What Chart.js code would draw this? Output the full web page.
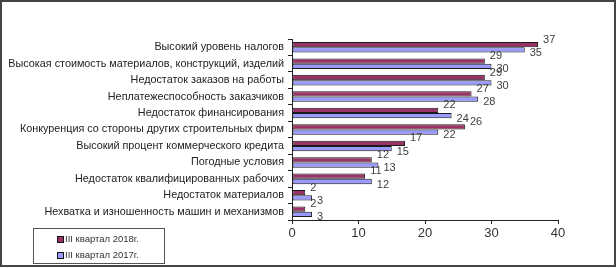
<!DOCTYPE html>
<html>
<head>
<meta charset="utf-8">
<script src="https://cdn.jsdelivr.net/npm/chart.js@4"></script>
<style>
  body { margin: 0; background: #fff; }
  #wrap { position: relative; width: 616px; height: 269px; }
  #frame { position: absolute; left: 0; top: 0; width: 612px; height: 263px; border: 2px solid #444; pointer-events: none; }
  #legend { position: absolute; left: 33px; top: 228px; width: 130px; height: 34px; border: 1px solid #555;
            font: 9.5px "Liberation Sans", Arial, sans-serif; color: #333; }
  #legend div { position: absolute; left: 23px; }
  #legend span { display: inline-block; width: 5px; height: 5px; border: 1px solid #111; margin-right: 1px; vertical-align: -1px; }
</style>
</head>
<body>
<div id="wrap">
  <canvas id="theChart" width="616" height="269"></canvas>
  <div id="legend"></div>
  <div id="frame"></div>
</div>
<script>
const labels1 = [
  'Высокий уровень налогов',
  'Высокая стоимость материалов, конструкций, изделий',
  'Недостаток заказов на работы',
  'Неплатежеспособность заказчиков',
  'Недостаток финансирования',
  'Конкуренция со стороны других строительных фирм',
  'Высокий процент коммерческого кредита',
  'Погодные условия',
  'Недостаток квалифицированных рабочих',
  'Недостаток материалов',
  'Нехватка и изношенность машин и механизмов'
];
const series2018 = [37, 29, 29, 27, 22, 26, 17, 12, 11, 2, 2];
const series2017 = [35, 30, 30, 28, 24, 22, 15, 13, 12, 3, 3];
const seriesNames = ['III квартал 2018г.', 'III квартал 2017г.'];
const xTicks = [0, 10, 20, 30, 40];

// value labels next to bar ends (no datalabels plugin available)
const valueLabels = {
  id: 'valueLabels',
  afterDatasetsDraw(chart) {
    const ctx = chart.ctx;
    ctx.save();
    ctx.font = '11px "Liberation Sans", Arial, sans-serif';
    ctx.fillStyle = '#404040';
    ctx.textAlign = 'left';
    ctx.textBaseline = 'middle';
    chart.data.datasets.forEach((ds, i) => {
      const meta = chart.getDatasetMeta(i);
      meta.data.forEach((bar, j) => {
        const dy = i === 0 ? -5 : 3;
        ctx.fillText(ds.data[j], bar.x + 5, bar.y + dy);
      });
    });
    ctx.restore();
  }
};

const data1 = {
  labels: labels1,
  datasets: [
    {
      label: seriesNames[0],
      data: series2018,
      backgroundColor: '#993366',
      borderColor: '#1a1a1a',
      borderWidth: 1,
      borderSkipped: false
    },
    {
      label: seriesNames[1],
      data: series2017,
      backgroundColor: '#9999FF',
      borderColor: '#1a1a1a',
      borderWidth: 1,
      borderSkipped: false
    }
  ]
};

const cfg1 = {
  type: 'bar',
  data: data1,
  plugins: [valueLabels],
  options: {
    indexAxis: 'y',
    responsive: false,
    animation: { duration: 0 },
    layout: { padding: { left: 0, right: 58, top: 39, bottom: 24 } },
    datasets: { bar: { categoryPercentage: 0.64, barPercentage: 1 } },
    scales: {
      x: {
        min: 0,
        max: 40,
        afterBuildTicks: s => { s.ticks = xTicks.map(v => ({ value: v })); },
        afterFit: s => { s.height = 25; },
        grid: { drawOnChartArea: false, tickLength: 4, color: '#222' },
        border: { color: '#222' },
        ticks: { color: '#333', padding: 2, font: { size: 13, family: '"Liberation Sans", Arial, sans-serif' } }
      },
      y: {
        afterFit: s => { s.width = 292; },
        grid: { drawOnChartArea: false, tickLength: 4, color: '#222' },
        border: { color: '#222' },
        ticks: { color: '#222', padding: 4, autoSkip: false, font: { size: 10.8, family: '"Liberation Sans", Arial, sans-serif' } }
      }
    },
    plugins: {
      legend: { display: false },
      tooltip: { enabled: false }
    }
  }
};

const myChart = new Chart(document.getElementById('theChart').getContext('2d'), cfg1);

// legend box, bottom left
const legendEl = document.getElementById('legend');
data1.datasets.forEach((ds, i) => {
  const row = document.createElement('div');
  row.style.top = (i === 0 ? 4 : 20) + 'px';
  row.innerHTML = '<span style="background:' + ds.backgroundColor + '"></span>' + ds.label;
  legendEl.appendChild(row);
});
</script>
</body>
</html>
